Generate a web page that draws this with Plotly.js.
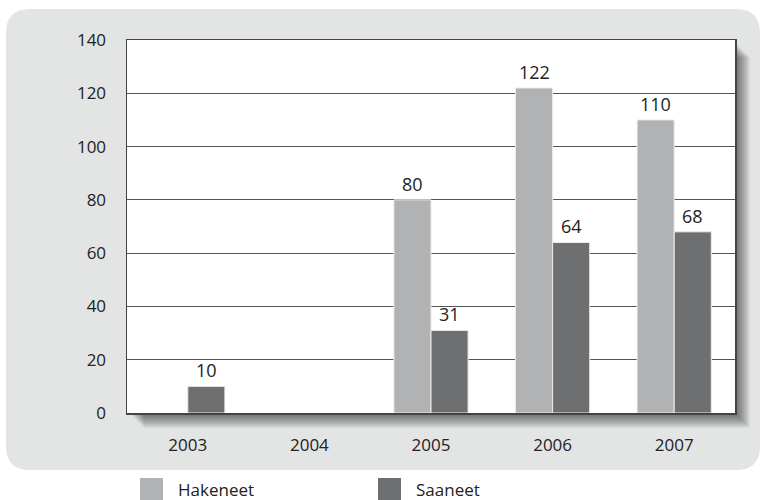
<!DOCTYPE html>
<html>
<head>
<meta charset="utf-8">
<script src="https://cdn.plot.ly/plotly-3.0.1.min.js"></script>
<style>
  html, body { margin: 0; padding: 0; background: #ffffff; }
  #chart { width: 762px; height: 500px; }
</style>
</head>
<body>
<div id="chart"></div>
<script>
// Applicants vs. recipients per year
const years = ['2003', '2004', '2005', '2006', '2007'];
const seriesNames = ['Hakeneet', 'Saaneet'];
const hakeneet = [null, null, 80, 122, 110];
const saaneet = [10, null, 31, 64, 68];
const yTicks = [0, 20, 40, 60, 80, 100, 120, 140];

const seriesValues = [hakeneet, saaneet];
const seriesColors = ['#b1b2b3', '#6e6f71'];

// plot-area geometry in pixels
const W = 762, Hh = 500;
const L = 127, R = 735, T = 40, B = 413;
const PW = R - L, PH = B - T;
const px = x => (x - L) / PW;
const py = y => (B - y) / PH;

const textFont = 'Open Sans, Lato, sans-serif';
const textColor = '#222222';

const traces = seriesNames.map((name, i) => ({
  type: 'bar',
  name: name,
  x: years,
  y: seriesValues[i],
  marker: { color: seriesColors[i], line: { color: '#ececec', width: 1 } },
  hoverinfo: 'x+y+name'
}));

// value labels above each bar
const halfBar = PW / years.length * (1 - 0.39) / 4;
const annotations = [];
seriesValues.forEach((vals, i) => {
  vals.forEach((v, j) => {
    if (v === null) return;
    annotations.push({
      x: j, y: v, xref: 'x', yref: 'y',
      text: String(v), showarrow: false,
      xshift: i === 0 ? -halfBar : halfBar, yshift: 2,
      yanchor: 'bottom', xanchor: 'center',
      font: { family: textFont, size: 18, color: textColor }
    });
  });
});

// legend entries beneath the panel
const legendX = [140, 378];
const swatch = 23;
seriesNames.forEach((name, i) => {
  annotations.push({
    x: px(legendX[i] + swatch + 13), y: py(490), xref: 'paper', yref: 'paper',
    text: name, showarrow: false, xanchor: 'left', yanchor: 'middle',
    font: { family: textFont, size: 17, color: textColor }
  });
});

// rounded grey panel
function roundedRect(x0, y0, x1, y1, r) {
  const rx = r / PW, ry = r / PH;
  const a = px(x0), b = px(x1), top = py(y0), bot = py(y1);
  return 'M' + (a + rx) + ',' + top +
    ' L' + (b - rx) + ',' + top +
    ' Q' + b + ',' + top + ' ' + b + ',' + (top - ry) +
    ' L' + b + ',' + (bot + ry) +
    ' Q' + b + ',' + bot + ' ' + (b - rx) + ',' + bot +
    ' L' + (a + rx) + ',' + bot +
    ' Q' + a + ',' + bot + ' ' + a + ',' + (bot + ry) +
    ' L' + a + ',' + (top - ry) +
    ' Q' + a + ',' + top + ' ' + (a + rx) + ',' + top + ' Z';
}

const shapes = [];
shapes.push({
  type: 'path', xref: 'paper', yref: 'paper', layer: 'below',
  path: roundedRect(6, 9, 760, 470, 24),
  fillcolor: '#e3e4e4', line: { width: 0 }
});
// soft drop shadow to the lower right of the plot area
for (let k = 1; k <= 15; k++) {
  shapes.push({
    type: 'rect', xref: 'paper', yref: 'paper', layer: 'below',
    x0: px(L + k + 2), x1: px(R + k), y0: py(B + k), y1: py(T + k + 2),
    fillcolor: 'rgba(0,0,0,0.045)', line: { width: 0 }
  });
}
shapes.push({
  type: 'rect', xref: 'paper', yref: 'paper', layer: 'below',
  x0: 0, x1: 1, y0: 0, y1: 1,
  fillcolor: '#ffffff', line: { width: 0 }
});
// legend swatches
seriesNames.forEach((name, i) => {
  shapes.push({
    type: 'rect', xref: 'paper', yref: 'paper', layer: 'above',
    x0: px(legendX[i]), x1: px(legendX[i] + swatch),
    y0: py(478 + swatch), y1: py(478),
    fillcolor: seriesColors[i], line: { width: 0 }
  });
});

const layout = {
  width: W, height: Hh,
  margin: { l: L, r: W - R, t: T, b: Hh - B, pad: 0 },
  paper_bgcolor: '#ffffff',
  plot_bgcolor: 'rgba(0,0,0,0)',
  barmode: 'group',
  bargap: 0.39,
  bargroupgap: 0,
  showlegend: false,
  xaxis: {
    type: 'category',
    categoryorder: 'array',
    categoryarray: years,
    range: [-0.5, years.length - 0.5],
    autorange: false,
    showgrid: false,
    showline: true, linecolor: '#444444', linewidth: 1.5, mirror: true,
    ticks: 'outside', ticklen: 16, tickcolor: 'rgba(0,0,0,0)',
    tickfont: { family: textFont, size: 17, color: textColor },
    fixedrange: true
  },
  yaxis: {
    range: [0, 140],
    autorange: false,
    tickvals: yTicks,
    ticktext: yTicks.map(String),
    showgrid: true, gridcolor: '#555555', gridwidth: 1.2,
    zeroline: false,
    showline: true, linecolor: '#444444', linewidth: 1.5, mirror: true,
    ticks: 'outside', ticklen: 16, tickcolor: 'rgba(0,0,0,0)',
    tickfont: { family: textFont, size: 17, color: textColor },
    fixedrange: true
  },
  shapes: shapes,
  annotations: annotations
};

Plotly.newPlot('chart', traces, layout, { displayModeBar: false, staticPlot: true });
</script>
</body>
</html>
